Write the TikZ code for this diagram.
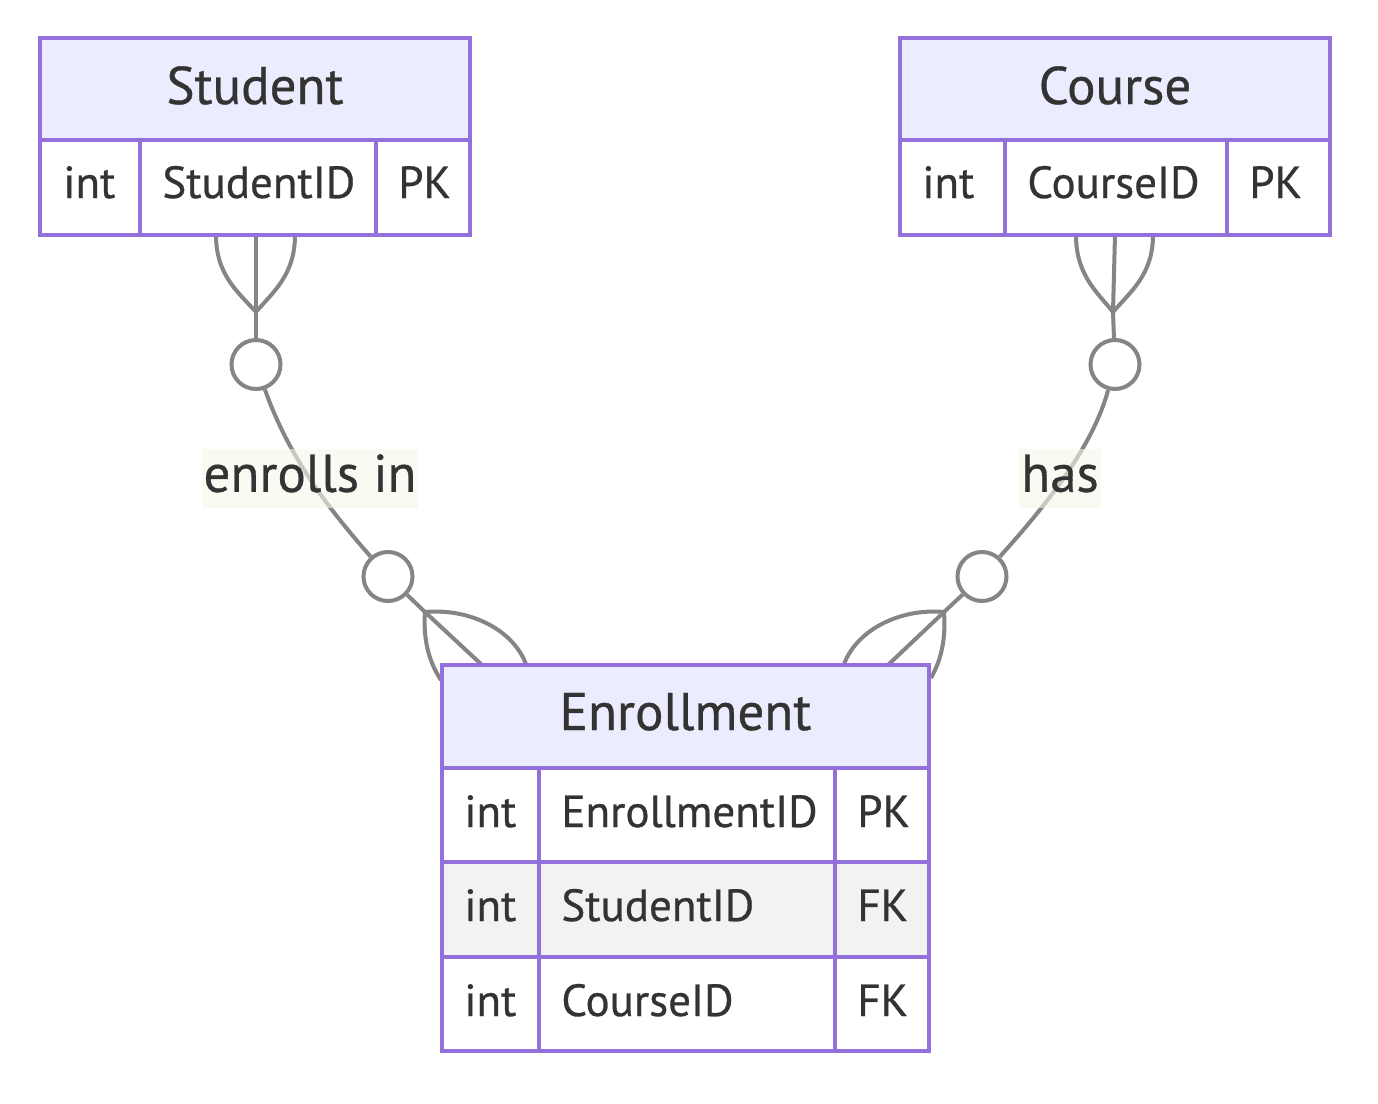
\documentclass[tikz,border=0pt]{standalone}
\usepackage{fontspec}
\setmainfont{PT Sans}[FakeBold=0.6]
\definecolor{txt}{HTML}{333333}
\definecolor{bordc}{HTML}{9370DB}
\definecolor{hdrc}{HTML}{ECECFF}
\definecolor{altc}{HTML}{F2F2F2}
\definecolor{edgec}{HTML}{858585}
\definecolor{lblbg}{RGB}{245,248,233}
\tikzset{
  cell/.style={draw=bordc, line width=2pt, fill=white},
  hcell/.style={draw=bordc, line width=2pt, fill=hdrc},
  acell/.style={draw=bordc, line width=2pt, fill=altc},
  rt/.style={anchor=base west, inner sep=0pt, text=txt, font=\fontsize{22.5}{27}\selectfont},
  ht/.style={anchor=base, inner sep=0pt, text=txt, font=\fontsize{26.5}{31}\selectfont},
  rel/.style={draw=edgec, line width=2pt},
  circ/.style={circle, draw=edgec, line width=2pt, fill=white, minimum size=24.5pt, inner sep=0pt},
  lbl/.style={fill=lblbg, fill opacity=0.6, text opacity=1, text=txt, font=\fontsize{26.5}{32}\selectfont,
    text height=19.9pt, text depth=6.6pt, inner xsep=1pt, inner ysep=1.5pt},
}
\begin{document}
\begin{tikzpicture}[x=0.5pt,y=-0.5pt]
\useasboundingbox[fill=white] (0,0) rectangle (1378,1104);

% ---------- relationship lines ----------
\coordinate (sa) at (256,312);
\coordinate (sb) at (256,235);
\coordinate (ea) at (425,612);
\coordinate (ec) at (482,665);
\coordinate (ca) at (1113,312);
\coordinate (cb) at (1115,235);
\coordinate (eb) at (944,612);
\coordinate (ed) at (888,665);

\node[circ] (c1) at (256,364.5) {};
\node[circ] (c2) at (388,576.5) {};
\node[circ] (c3) at (1115,364.5) {};
\node[circ] (c4) at (982,576.5) {};

% Student -> Enrollment
\draw[rel] (sb) -- (sa) -- (c1);
\draw[rel] (216,235) .. controls (216,275) and (238,292) .. (sa);
\draw[rel] (295,235) .. controls (295,275) and (273,292) .. (sa);
\draw[rel] (c1) .. controls (290,460) and (330,510) .. (c2);
\draw[rel] (c2) -- (ea) -- (ec);
\draw[rel] (ea) .. controls (423,640) and (429,662) .. (441,680);
\draw[rel] (ea) .. controls (470,608) and (515,630) .. (527,667);

% Course -> Enrollment
\draw[rel] (cb) -- (ca) -- (c3);
\draw[rel] (1076,235) .. controls (1076,275) and (1097,292) .. (ca);
\draw[rel] (1153,235) .. controls (1153,275) and (1130,292) .. (ca);
\draw[rel] (c3) .. controls (1092,450) and (1040,512) .. (c4);
\draw[rel] (c4) -- (eb) -- (ed);
\draw[rel] (eb) .. controls (900,608) and (855,630) .. (843,667);
\draw[rel] (eb) .. controls (946,640) and (941,660) .. (931,678);

\node[lbl] (l1) at (310,478.5) {enrolls in};
\node[lbl] (l2) at (1060,478.5) {has};

% ---------- Student ----------
\draw[hcell] (40,38) rectangle (470,140);
\draw[cell] (40,140) rectangle (140,235);
\draw[cell] (140,140) rectangle (376,235);
\draw[cell] (376,140) rectangle (470,235);
\node[ht] (student) at (255,104) {Student};
\node[rt] (s1) at (63,198) {int};
\node[rt] (s2) at (162,198) {StudentID};
\node[rt] (s3) at (398,198) {PK};

% ---------- Course ----------
\draw[hcell] (900,38) rectangle (1330,140);
\draw[cell] (900,140) rectangle (1005,235);
\draw[cell] (1005,140) rectangle (1227,235);
\draw[cell] (1227,140) rectangle (1330,235);
\node[ht] (course) at (1115,104) {Course};
\node[rt] (k1) at (922,198) {int};
\node[rt] (k2) at (1027,198) {CourseID};
\node[rt] (k3) at (1249,198) {PK};

% ---------- Enrollment ----------
\draw[hcell] (442,665) rectangle (929,768);
\draw[cell] (442,768) rectangle (539,862);
\draw[cell] (539,768) rectangle (835,862);
\draw[cell] (835,768) rectangle (929,862);
\draw[acell] (442,862) rectangle (539,957);
\draw[acell] (539,862) rectangle (835,957);
\draw[acell] (835,862) rectangle (929,957);
\draw[cell] (442,957) rectangle (539,1051);
\draw[cell] (539,957) rectangle (835,1051);
\draw[cell] (835,957) rectangle (929,1051);
\node[ht] (enroll) at (685.5,730) {Enrollment};
\node[rt] (e1) at (464,827) {int};
\node[rt] (e2) at (561,827) {EnrollmentID};
\node[rt] (e3) at (857,827) {PK};
\node[rt] (e4) at (464,921) {int};
\node[rt] (e5) at (561,921) {StudentID};
\node[rt] (e6) at (857,921) {FK};
\node[rt] (e7) at (464,1016) {int};
\node[rt] (e8) at (561,1016) {CourseID};
\node[rt] (e9) at (857,1016) {FK};
\end{tikzpicture}
\end{document}
